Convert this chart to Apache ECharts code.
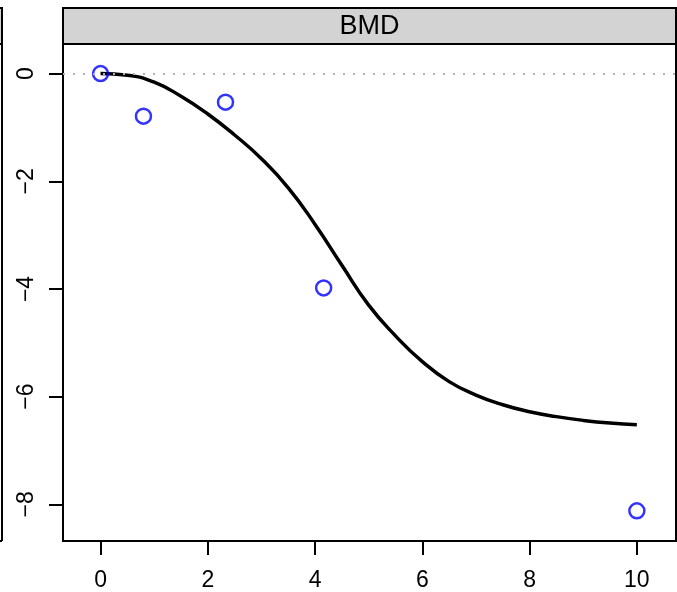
<!DOCTYPE html>
<html>
<head>
<meta charset="utf-8">
<script src="https://cdn.jsdelivr.net/npm/echarts@6/dist/echarts.min.js"></script>
<style>
html,body{margin:0;padding:0;background:#fff;}
#main{width:677px;height:592px;}
</style>
</head>
<body>
<div id="main"></div>
<script>
// 观测点
var doseX=[0,0.8,2.33,4.16,10];
var respY=[0,-0.79,-0.53,-3.98,-8.12];
// 拟合曲线
var fitX=[0,0.5,1,1.5,2,2.5,3,3.5,4,4.5,5,5.5,6,6.5,7,7.5,8,8.5,9,9.5,10];
var fitY=[0,-0.03,-0.16,-0.42,-0.75,-1.14,-1.58,-2.12,-2.8,-3.56,-4.3,-4.87,-5.35,-5.72,-5.97,-6.15,-6.28,-6.37,-6.44,-6.49,-6.52];
var xTicks=[0,2,4,6,8,10];
var yTicks=[0,-2,-4,-6,-8];
var panelTitle="BMD";

function pairs(xs,ys){
	var out=[];
	for(var i=0;i<xs.length;i++){
		out.push([xs[i],ys[i]]);
	}
	return out;
}

var chart=echarts.init(document.getElementById('main'),null,{renderer:'canvas'});
var font='"Liberation Sans", Arial, sans-serif';

var option={
	backgroundColor:'#ffffff',
	animation:false,
	grid:{
		left:63,
		top:44,
		right:1,
		bottom:51,
		show:true,
		borderColor:'#000',
		borderWidth:2,
		backgroundColor:'transparent'
	},
	xAxis:{
		type:'value',
		min:-0.7,
		max:10.73,
		axisLine:{show:false,onZero:false},
		splitLine:{show:false},
		axisTick:{show:true,customValues:xTicks,length:14,lineStyle:{color:'#000',width:2}},
		axisLabel:{customValues:xTicks,margin:28,color:'#000',fontSize:23,fontFamily:font}
	},
	yAxis:{
		type:'value',
		min:-8.68,
		max:0.55,
		axisLine:{show:false,onZero:false},
		splitLine:{show:false},
		axisTick:{show:true,customValues:yTicks,length:14,lineStyle:{color:'#000',width:2}},
		axisLabel:{
			customValues:yTicks,
			rotate:90,
			margin:25,
			color:'#000',
			fontSize:23,
			fontFamily:font,
			formatter:function(v){return String(v).replace('-','\u2212');}
		}
	},
	graphic:[
		// 左边被截掉的面板
		{type:'rect',shape:{x:-10,y:8,width:12,height:36},style:{fill:'#d3d3d3',stroke:'#000',lineWidth:2},z:10},
		{type:'line',shape:{x1:2,y1:44,x2:2,y2:541},style:{stroke:'#000',lineWidth:2},z:10},
		{type:'line',shape:{x1:-2,y1:541,x2:2,y2:541},style:{stroke:'#000',lineWidth:2},z:10},
		// 标题条
		{type:'rect',shape:{x:63,y:8,width:613,height:36},style:{fill:'#d3d3d3',stroke:'#000',lineWidth:2},z:10},
		{type:'text',x:369.5,y:27,style:{text:panelTitle,fill:'#000',font:'27px '+font,textAlign:'center',textVerticalAlign:'middle'},z:11}
	],
	series:[
		{
			type:'line',
			data:pairs(fitX,fitY),
			smooth:0.5,
			showSymbol:false,
			lineStyle:{color:'#000',width:3.5},
			z:3,
			markLine:{
				silent:true,
				symbol:['none','none'],
				label:{show:false},
				lineStyle:{color:'#b0b0b0',type:[2,8],width:2},
				data:[{yAxis:0}]
			}
		},
		{
			type:'scatter',
			data:pairs(doseX,respY),
			symbol:'circle',
			symbolSize:15,
			itemStyle:{color:'rgba(0,0,0,0)',borderColor:'#0000ff',borderWidth:2.5},
			z:4
		}
	]
};
chart.setOption(option);
</script>
</body>
</html>
